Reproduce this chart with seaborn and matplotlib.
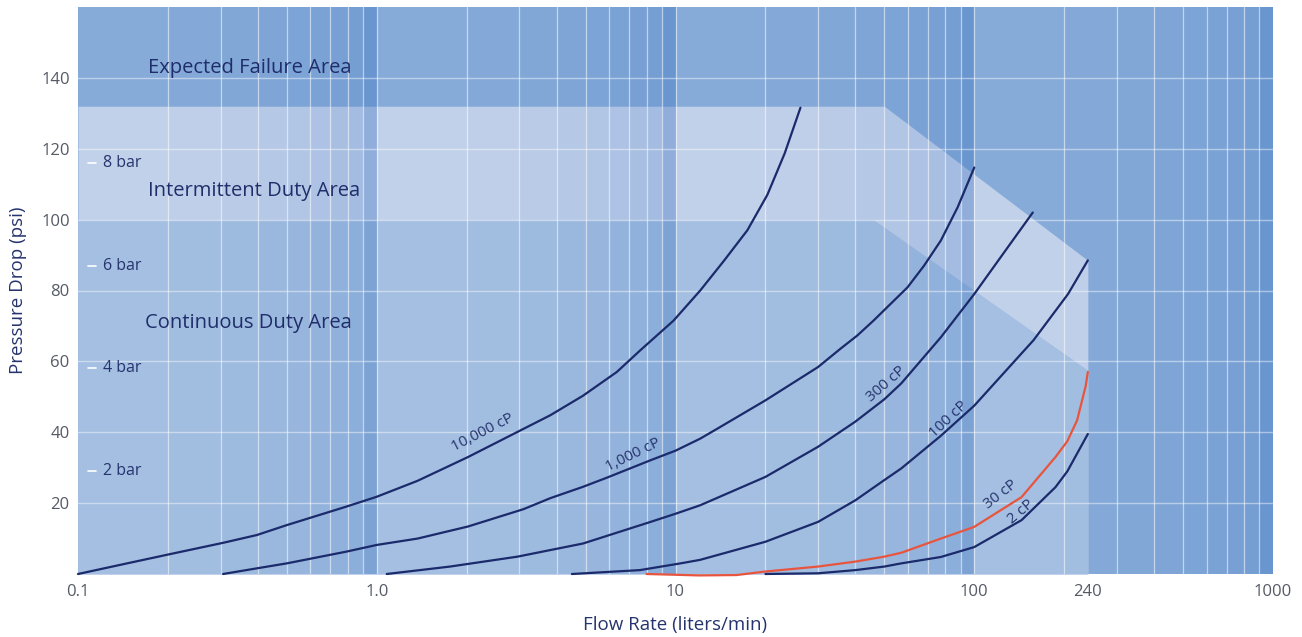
import numpy as np
import pandas as pd
import matplotlib
matplotlib.use("Agg")
import matplotlib.pyplot as plt
import matplotlib.transforms as mtransforms
import seaborn as sns

# ---------------------------------------------------------
# Data (flow in liters/min, pressure drop in psi)
# ---------------------------------------------------------
flow_10000 = [0.1, 0.146, 0.203, 0.306, 0.397, 0.5, 0.79, 1.0, 1.37, 2.02, 3.81,
              4.9, 6.36, 7.64, 9.85, 12.1, 14.5, 17.4, 20.3, 23.2, 26.2]
psi_10000 = [0, 3.0, 5.6, 8.8, 11, 13.8, 19, 21.8, 26.3, 33, 44.8,
             50.3, 57, 63.2, 71.5, 80, 88.3, 97, 107, 118.7, 131.6]

flow_1000 = [0.306, 0.397, 0.5, 0.79, 1.0, 1.37, 2.02, 3.1, 3.81, 4.9, 5.9, 8.25,
             10, 12.1, 13.8, 20, 30, 35.7, 40.6, 46, 59.8, 67.9, 77.3, 88, 100]
psi_1000 = [0, 1.6, 3.0, 6.3, 8.2, 10, 13.4, 18.3, 21.4, 24.6, 27.2, 32.1,
            34.8, 38.2, 41, 49, 58.4, 63.6, 67.3, 71.5, 80.9, 87, 94.1, 103.5, 114.7]

flow_300 = [1.08, 1.76, 2.96, 4.9, 8.25, 10, 12.1, 20, 30, 40, 50, 57, 77.3,
            100, 129, 157]
psi_300 = [0, 2.1, 4.9, 8.6, 14.7, 17, 19.4, 27.4, 35.9, 43, 49.3, 53.8, 66.8,
           79, 92, 102]

flow_100 = [4.5, 7.6, 10.4, 12.1, 20, 30, 40, 50, 57, 77.3, 100, 158, 206, 240]
psi_100 = [0, 1.1, 3.0, 4.0, 9.1, 14.7, 20.8, 26.5, 29.8, 39, 47.5, 66, 79, 88.5]

flow_30 = [8, 12, 16, 20, 30, 40, 50, 57, 77.3, 100, 144, 187, 205, 221, 236, 240]
psi_30 = [0, -0.4, -0.3, 0.7, 2.1, 3.5, 4.9, 6, 10, 13.3, 21.7, 33, 37.5, 43.4,
          53, 57]

flow_2 = [20, 30, 40, 50, 57, 77.3, 100, 144, 187, 205, 240]
psi_2 = [0, 0.2, 1.1, 2.1, 3, 4.8, 7.6, 15.2, 24.5, 29, 39.5]

viscosity_labels = ["10,000 cP", "1,000 cP", "300 cP", "100 cP", "30 cP", "2 cP"]

# operating area boundaries
intermittent_x = [0.1, 50, 240]
intermittent_top = [132, 132, 88.5]
continuous_x = [0.1, 46, 240]
continuous_top = [100, 100, 57.5]

bar_values = [2, 4, 6, 8]
x_ticks = [0.1, 1, 10, 100, 240, 1000]
x_tick_labels = ["0.1", "1.0", "10", "100", "240", "1000"]
y_ticks = [20, 40, 60, 80, 100, 120, 140]

# ---------------------------------------------------------
# Build a long table for seaborn
# ---------------------------------------------------------
curves = [flow_10000, flow_1000, flow_300, flow_100, flow_30, flow_2]
values = [psi_10000, psi_1000, psi_300, psi_100, psi_30, psi_2]
frames = []
for name, fx, fy in zip(viscosity_labels, curves, values):
    frames.append(pd.DataFrame({"flow": fx, "psi": fy, "visc": name}))
df = pd.concat(frames, ignore_index=True)

navy = "#1b2a6b"
red = "#e8553f"
palette = {name: navy for name in viscosity_labels}
palette["30 cP"] = red

sns.set_theme(style="white")
plt.rcParams["font.family"] = ["Open Sans", "DejaVu Sans"]

fig = plt.figure(figsize=(13.02, 6.37), dpi=100)
ax = fig.add_axes([78 / 1302, 1 - 574 / 637, 1195 / 1302, 567 / 637])

fail_col = "#86abd9"
inter_col = "#c2d1ea"
cont_col = "#a4bfe1"

ax.set_xscale("log")
ax.set_xlim(0.1, 1000)
ax.set_ylim(0, 160)
ax.set_facecolor(fail_col)

# operating areas
ax.fill_between(intermittent_x, 0, intermittent_top, color=inter_col, lw=0, zorder=0)
ax.fill_between(continuous_x, 0, continuous_top, color=cont_col, lw=0, zorder=0)

# darkening columns inside each decade
alphas = [0, 0.02, 0.06, 0.09, 0.12, 0.15, 0.18, 0.22, 0.36]
for d in [0.1, 1, 10, 100]:
    for k in range(1, 10):
        if alphas[k - 1] > 0:
            ax.axvspan(k * d, (k + 1) * d, color="#3a72c2", alpha=alphas[k - 1],
                       lw=0, zorder=1)
        if k > 1 or d > 0.1:
            ax.axvline(k * d, color="white", alpha=0.55, lw=0.9, zorder=2)

for yv in y_ticks:
    ax.axhline(yv, color="white", alpha=0.45, lw=1, zorder=2)

# viscosity curves
sns.lineplot(data=df, x="flow", y="psi", hue="visc", palette=palette,
             estimator=None, sort=False, legend=False, lw=1.6, ax=ax, zorder=4)
for line in ax.get_lines()[-6:]:
    line.set_clip_on(False)
    line.set_solid_joinstyle("round")

# curve labels
curve_label_pos = [(2.27, 40, 27), (7.2, 33.5, 26), (50.6, 53.5, 41),
                   (82, 43.5, 43), (123, 22.5, 38), (143, 17.5, 40)]
for name, (lx, ly, rot) in zip(viscosity_labels, curve_label_pos):
    ax.text(lx, ly, name, rotation=rot, rotation_mode="anchor", ha="center",
            va="center", fontsize=11, color="#26346e", zorder=5)

# area labels
area_color = "#1f2d6a"
ax.text(0.172, 142.8, "Expected Failure Area", fontsize=14.5, color=area_color,
        va="center", ha="left", zorder=5)
ax.text(0.172, 108, "Intermittent Duty Area", fontsize=14.5, color=area_color,
        va="center", ha="left", zorder=5)
ax.text(0.168, 70.7, "Continuous Duty Area", fontsize=14.5, color=area_color,
        va="center", ha="left", zorder=5)

# bar reference marks
trans = mtransforms.blended_transform_factory(ax.transAxes, ax.transData)
for b in bar_values:
    ax.plot([0.0084, 0.015], [b * 14.5, b * 14.5], color="white", lw=1.2,
            transform=trans, zorder=5)
    ax.text(0.021, b * 14.5, f"{b} bar", transform=trans, fontsize=11.5,
            color="#26346e", va="center", ha="left", zorder=5)

ax.set_xticks(x_ticks)
ax.set_xticklabels(x_tick_labels)
ax.xaxis.set_minor_locator(matplotlib.ticker.NullLocator())
ax.set_yticks(y_ticks)
ax.tick_params(axis="both", length=0, labelsize=12, colors="#555a66")
ax.tick_params(axis="x", pad=7)
ax.tick_params(axis="y", pad=6)
for s in ax.spines.values():
    s.set_visible(False)

ax.set_xlabel("Flow Rate (liters/min)", fontsize=13.5, color="#26346e", labelpad=12)
ax.set_ylabel("Pressure Drop (psi)", fontsize=13.5, color="#26346e", labelpad=10)
ax.grid(False)

fig.savefig("out.png", dpi=100, facecolor="white")
plt.close()
